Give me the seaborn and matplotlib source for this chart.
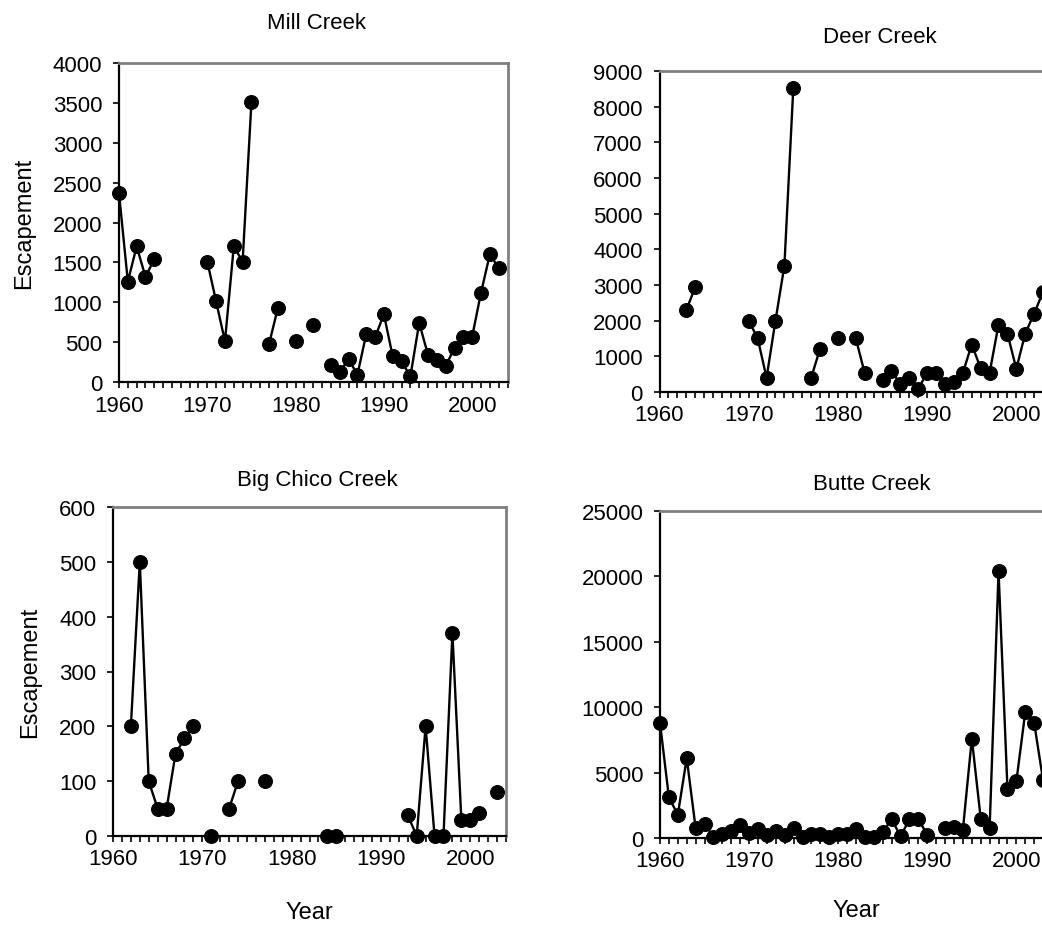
import pandas as pd
import matplotlib
matplotlib.use("Agg")
import matplotlib.pyplot as plt
import seaborn as sns
from matplotlib.ticker import MultipleLocator

# годы наблюдений
years = list(range(1960, 2004))

mill = [2370, 1260, 1700, 1320, 1540, None, None, None, None, None,
        1510, 1010, 510, 1700, 1510, 3510, None, 480, 930, None,
        510, None, 710, None, 210, 120, 290, 90, 600, 560,
        850, 320, 260, 70, 740, 340, 270, 200, 430, 570,
        570, 1120, 1600, 1430]

deer = [None, None, None, 2300, 2930, None, None, None, None, None,
        2000, 1510, 400, 2000, 3540, 8530, None, 400, 1210, None,
        1510, None, 1510, 530, None, 350, 600, 220, 400, 90,
        530, 530, 220, 280, 530, 1330, 670, 530, 1880, 1640,
        650, 1640, 2200, 2810]

big_chico = [None, None, 200, 500, 100, 50, 50, 150, 178, 200,
             None, 0, None, 50, 100, None, None, 100, None, None,
             None, None, None, None, 0, 0, None, None, None, None,
             None, None, None, 38, 0, 200, 0, 0, 370, 30,
             30, 42, None, 80]

butte = [8800, 3100, 1780, 6100, 760, 1100, 80, 330, 510, 970,
         410, 660, 250, 510, 250, 760, 80, 330, 330, 80,
         330, 330, 660, 80, 80, 460, 1430, 130, 1430, 1430,
         250, None, 760, 815, 640, 7600, 1480, 760, 20400, 3770,
         4330, 9630, 8800, 4400]

sns.set_style("white")
plt.rcParams["font.family"] = ["Liberation Sans", "DejaVu Sans"]
plt.rcParams["text.color"] = "black"
plt.rcParams["axes.labelcolor"] = "black"
plt.rcParams["xtick.color"] = "black"
plt.rcParams["ytick.color"] = "black"

W, H = 1042, 928
fig = plt.figure(figsize=(W / 100, H / 100), dpi=100)


def panel(rect_px, values, ymax, ystep, title, title_x, title_pad,
          ylabel=False, xlabel=False, xlabelpad=22):
    left, top, right, bottom = rect_px
    ax = fig.add_axes([left / W, 1 - bottom / H, (right - left) / W, (bottom - top) / H])

    df = pd.DataFrame({"year": years, "escapement": values}, dtype=float)
    # разрывы линии там, где нет данных
    df["seg"] = df["escapement"].isna().cumsum()
    df = df.dropna()
    sns.lineplot(data=df, x="year", y="escapement", units="seg", estimator=None,
                 color="black", marker="o", markersize=10, markeredgecolor="black",
                 linewidth=1.7, legend=False, clip_on=False, ax=ax, zorder=5)

    ax.set_xlim(1960, 2004)
    ax.set_ylim(0, ymax)
    ax.xaxis.set_major_locator(MultipleLocator(10))
    ax.xaxis.set_minor_locator(MultipleLocator(1))
    ax.yaxis.set_major_locator(MultipleLocator(ystep))
    ax.tick_params(axis="both", which="both", direction="out", length=4,
                   width=1.2, color="black", labelsize=16, labelcolor="black")
    ax.tick_params(axis="x", which="both", bottom=True, pad=5)
    ax.tick_params(axis="y", which="both", left=True, pad=8)

    for side in ["left", "bottom"]:
        ax.spines[side].set_color("black")
        ax.spines[side].set_linewidth(1.6)
    for side in ["top", "right"]:
        ax.spines[side].set_color("#808080")
        ax.spines[side].set_linewidth(2)

    ax.set_title(title, fontsize=16, x=title_x, pad=title_pad, color="black")
    ax.set_ylabel("Escapement" if ylabel else "", fontsize=17, labelpad=13)
    ax.set_xlabel("Year" if xlabel else "", fontsize=17, labelpad=xlabelpad)
    return ax


panel((119, 64, 507.5, 383), mill, 4000, 500, "Mill Creek", 0.509, 25, ylabel=True)
panel((659.5, 72, 1052, 393), deer, 9000, 1000, "Deer Creek", 0.562, 21)
panel((113, 508, 506, 837), big_chico, 600, 100, "Big Chico Creek", 0.519, 16,
      ylabel=True, xlabel=True, xlabelpad=23)
panel((660, 512, 1052, 839), butte, 25000, 5000, "Butte Creek", 0.541, 16,
      xlabel=True, xlabelpad=20)

fig.savefig("out.png", dpi=100)
plt.close(fig)
